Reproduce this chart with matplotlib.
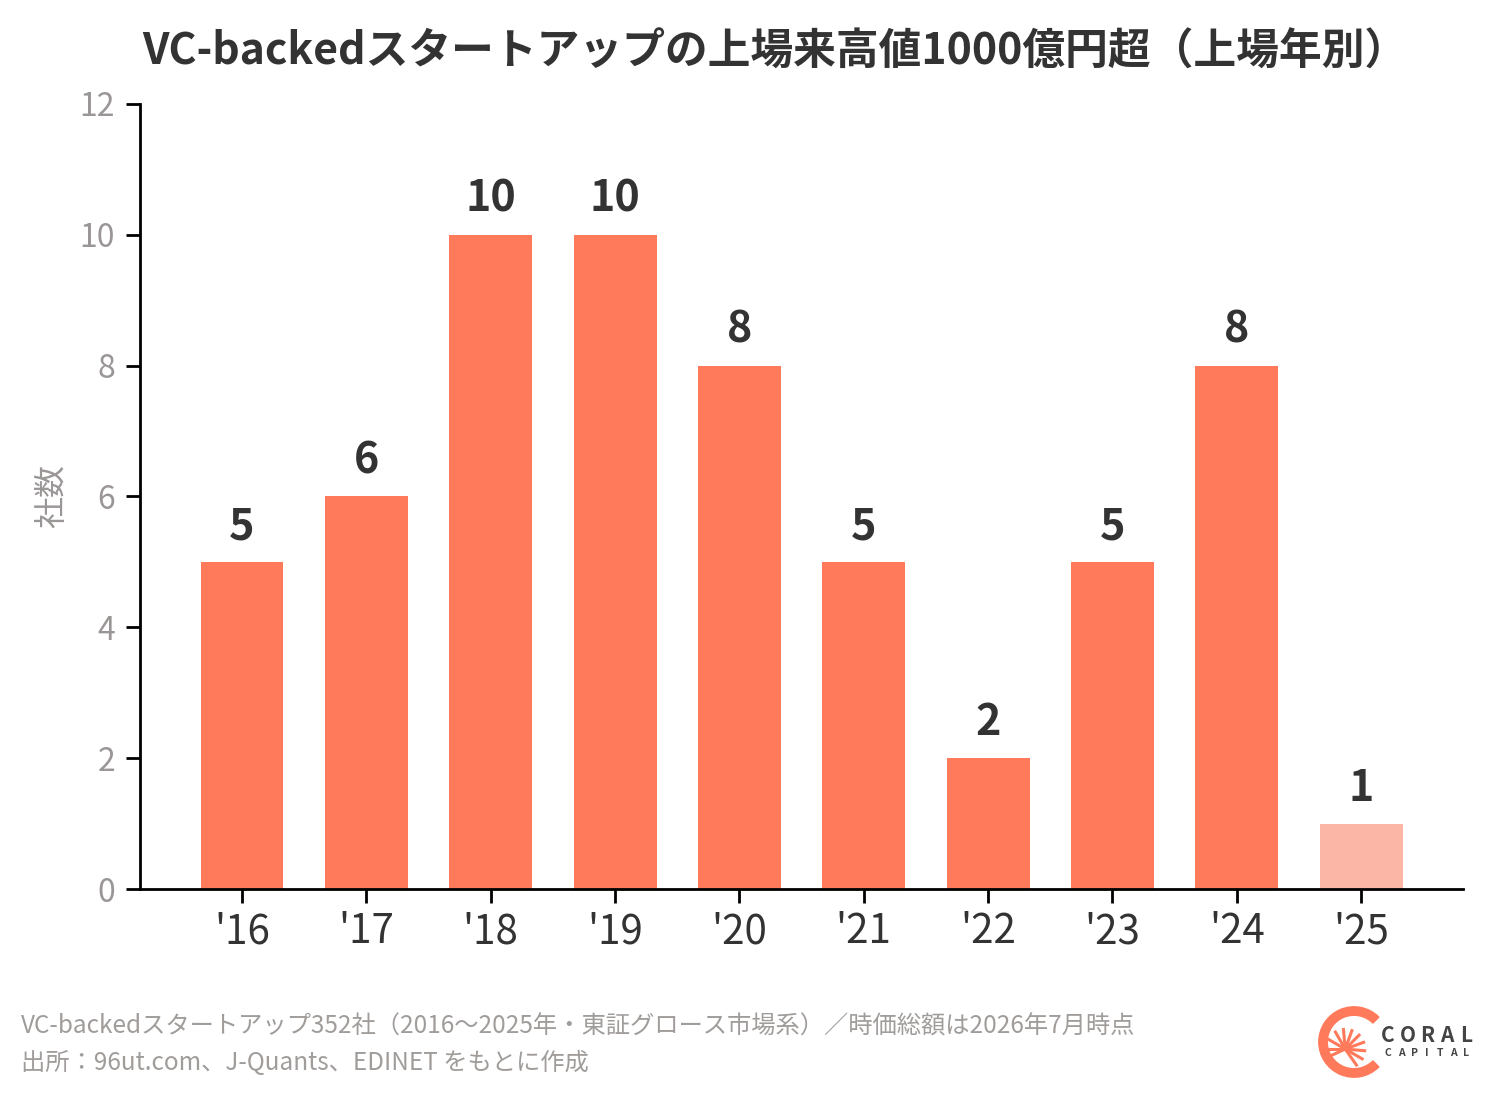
import matplotlib
matplotlib.use('Agg')
import matplotlib.pyplot as plt
import numpy as np
from matplotlib.patches import Wedge

plt.rcParams['font.family'] = ['Noto Sans CJK JP', 'DejaVu Sans']

# data
years = ["'16", "'17", "'18", "'19", "'20", "'21", "'22", "'23", "'24", "'25"]
counts = [5, 6, 10, 10, 8, 5, 2, 5, 8, 1]

main_color = '#FF7A5A'
light_color = '#FBB6A6'
colors = [main_color] * (len(years) - 1) + [light_color]

W, H = 1496, 1100
fig = plt.figure(figsize=(W / 100, H / 100), dpi=100)
ax = fig.add_axes([0.0936, 0.1918, 0.8844, 0.7137])

x = range(len(years))
ax.bar(x, counts, width=0.667, color=colors)

for xi, v in zip(x, counts):
    ax.annotate(str(v), (xi, v), xytext=(0, 10), textcoords='offset points',
                ha='center', va='bottom', fontsize=31, fontweight='bold',
                color='#333333')

ax.set_xlim(-0.82, 9.82)
ax.set_ylim(0, 12)
ax.set_yticks(range(0, 13, 2))
ax.set_xticks(list(x))
ax.set_xticklabels(years)

ax.spines['top'].set_visible(False)
ax.spines['right'].set_visible(False)
ax.spines['left'].set_linewidth(2)
ax.spines['bottom'].set_linewidth(2)
ax.tick_params(axis='x', length=10, width=2, labelsize=29, labelcolor='#333333', pad=6)
ax.tick_params(axis='y', length=10, width=2, labelsize=23, labelcolor='#9A9696', pad=8)

ax.set_ylabel('社数', fontsize=23, color='#9A9696', labelpad=8)

fig.text(775 / W, 1 - 52 / H, 'VC-backedスタートアップの上場来高値1000億円超（上場年別）',
         ha='center', va='center', fontsize=30.8, fontweight='bold', color='#333333')

fig.text(0.014, 0.067, 'VC-backedスタートアップ352社（2016〜2025年・東証グロース市場系）／時価総額は2026年7月時点',
         ha='left', va='center', fontsize=17.5, color='#A09C9A')
fig.text(0.014, 0.034, '出所：96ut.com、J-Quants、EDINET をもとに作成',
         ha='left', va='center', fontsize=17.5, color='#A09C9A')

# logo
lax = fig.add_axes([1316 / W, 1 - 1080 / H, 76 / W, 76 / H])
lax.set_xlim(-1.08, 1.08)
lax.set_ylim(-1.08, 1.08)
lax.set_aspect('equal')
lax.axis('off')
lax.add_patch(Wedge((0, 0), 1.0, 45, 315, width=0.24, color=main_color))
root = (-0.25, -0.2)
for ang in [95, 70, 45, 20, -5, -30, -55, 120, 150, 180, 205]:
    r = np.deg2rad(ang)
    lax.plot([root[0], root[0] + 0.6 * np.cos(r)], [root[1], root[1] + 0.6 * np.sin(r)],
             color=main_color, lw=2.2, solid_capstyle='butt')

for i, ch in enumerate('CORAL'):
    fig.text((1388 + i * 19.5) / W, 1 - 1035 / H, ch, ha='center', va='center',
             fontsize=15, fontweight='bold', color='#444444')
for i, ch in enumerate('CAPITAL'):
    fig.text((1388 + i * 13) / W, 1 - 1053 / H, ch, ha='center', va='center',
             fontsize=7.5, fontweight='bold', color='#444444')

fig.savefig('out.png', dpi=100)
